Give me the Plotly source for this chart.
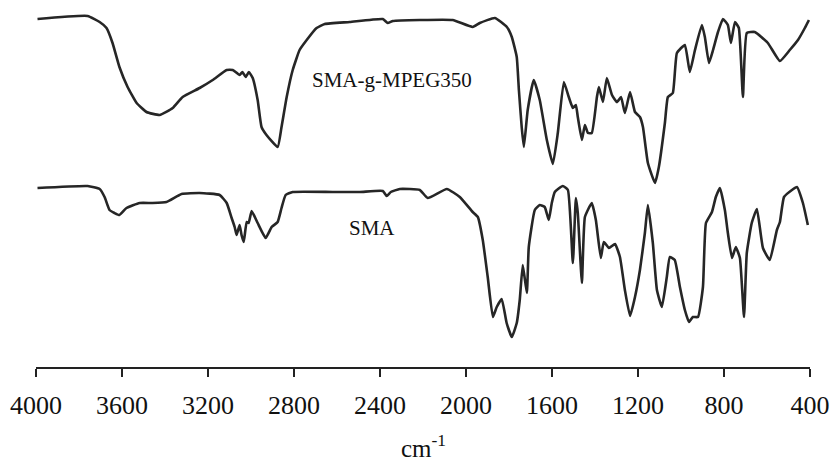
import plotly.graph_objects as go

# Wavenumbers (cm-1) and transmittance (arbitrary units)
wn_graft = [3993, 3760, 3704, 3672, 3644, 3612, 3574, 3532, 3486, 3425, 3364, 3318, 3239, 3178,
            3113, 3085, 3053, 3040, 3025, 3010, 2992, 2969, 2951, 2928, 2876, 2858, 2834, 2806,
            2774, 2741, 2695, 2657, 2541, 2387, 2364, 2340, 2215, 2062, 1969, 1936, 1866, 1810,
            1787, 1764, 1754, 1741, 1731, 1713, 1685, 1657, 1624, 1596, 1573, 1545, 1522, 1503,
            1489, 1480, 1461, 1447, 1433, 1415, 1391, 1382, 1363, 1345, 1321, 1298, 1279, 1261,
            1237, 1214, 1191, 1177, 1154, 1121, 1103, 1075, 1061, 1038, 1019, 982, 959, 935, 903,
            889, 870, 851, 828, 805, 782, 768, 749, 731, 712, 694, 657, 596, 540, 494, 456, 424, 405]
t_graft = [348, 351, 345, 339, 324, 300, 280, 264, 255, 252, 259, 270, 279, 287,
           297, 297, 292, 295, 290, 295, 289, 267, 240, 232, 220, 240, 270, 297,
           317, 327, 339, 343, 345, 348, 344, 346, 347, 347, 340, 344, 349, 340,
           330, 310, 277, 240, 220, 257, 287, 267, 227, 203, 234, 285, 270, 259,
           262, 250, 227, 242, 234, 234, 270, 280, 265, 289, 272, 265, 270, 254,
           275, 255, 250, 240, 204, 184, 200, 244, 270, 274, 314, 322, 295, 317, 342,
           330, 304, 317, 335, 348, 342, 324, 345, 339, 270, 334, 335, 324, 306, 317, 327, 339, 347]

wn_sma = [3993, 3760, 3704, 3681, 3658, 3635, 3612, 3579, 3518, 3458, 3393, 3323, 3239, 3146,
          3113, 3090, 3076, 3067, 3053, 3044, 3034, 3020, 3011, 2997, 2969, 2932, 2904, 2876,
          2858, 2839, 2806, 2620, 2494, 2387, 2369, 2350, 2308, 2215, 2178, 2089, 2029, 1969,
          1945, 1922, 1899, 1875, 1857, 1834, 1811, 1787, 1764, 1750, 1736, 1717, 1708, 1680,
          1657, 1634, 1615, 1601, 1587, 1550, 1526, 1503, 1489, 1480, 1461, 1447, 1415, 1396,
          1373, 1359, 1335, 1307, 1284, 1261, 1237, 1214, 1191, 1168, 1154, 1131, 1112, 1089,
          1066, 1052, 1029, 1005, 982, 963, 945, 921, 898, 884, 856, 838, 819, 796, 782, 763,
          745, 726, 707, 694, 671, 647, 619, 587, 554, 540, 521, 484, 461, 433, 410]
t_sma = [179, 181, 178, 170, 157, 154, 152, 159, 164, 164, 165, 173, 174, 172,
         164, 149, 140, 132, 142, 132, 125, 145, 144, 156, 144, 129, 140, 145,
         159, 172, 175, 175, 175, 176, 171, 175, 178, 177, 169, 178, 170, 155,
         150, 127, 90, 50, 60, 68, 44, 30, 44, 67, 102, 74, 120, 157,
         162, 160, 147, 164, 175, 181, 177, 104, 169, 154, 84, 150, 164, 147,
         109, 125, 119, 123, 110, 77, 51, 70, 97, 134, 162, 124, 77, 60,
         90, 110, 107, 80, 57, 45, 50, 50, 80, 144, 155, 170, 179, 157, 134, 109,
         120, 109, 50, 114, 144, 158, 119, 107, 137, 145, 170, 177, 180, 164, 142]

tick_vals = [4000, 3600, 3200, 2800, 2400, 2000, 1600, 1200, 800, 400]
tick_text = [str(v) for v in tick_vals]

serif = "Liberation Serif, Times New Roman, serif"
line_color = "#262626"

fig = go.Figure()
fig.add_trace(go.Scatter(x=wn_graft, y=t_graft, mode="lines",
                         line=dict(color=line_color, width=2.6, shape="spline", smoothing=0.4),
                         showlegend=False, hoverinfo="skip"))
fig.add_trace(go.Scatter(x=wn_sma, y=t_sma, mode="lines",
                         line=dict(color=line_color, width=2.6, shape="spline", smoothing=0.4),
                         showlegend=False, hoverinfo="skip"))

fig.add_annotation(x=2345, y=287, xref="x", yref="y", text="SMA-g-MPEG350", showarrow=False,
                   font=dict(family=serif, size=21, color="#111"), xanchor="center", yanchor="middle")
fig.add_annotation(x=2439, y=139, xref="x", yref="y", text="SMA", showarrow=False,
                   font=dict(family=serif, size=21, color="#111"), xanchor="center", yanchor="middle")
fig.add_annotation(x=0.5, y=-0.215, xref="paper", yref="paper", text="cm<sup>-1</sup>",
                   showarrow=False, font=dict(family=serif, size=25, color="#111"),
                   xanchor="center", yanchor="middle")

fig.update_layout(
    width=831, height=468,
    margin=dict(l=36, r=21, t=0, b=101),
    paper_bgcolor="white", plot_bgcolor="white",
    xaxis=dict(range=[4000, 400], tickvals=tick_vals, ticktext=tick_text,
               showgrid=False, zeroline=False, showline=True, linecolor="#222", linewidth=2,
               ticks="outside", ticklen=8, tickwidth=2, tickcolor="#222",
               ticklabelstandoff=6,
               tickfont=dict(family=serif, size=26, color="#111")),
    yaxis=dict(range=[0, 367], visible=False, showgrid=False, zeroline=False),
)

fig.write_html("out.html")
